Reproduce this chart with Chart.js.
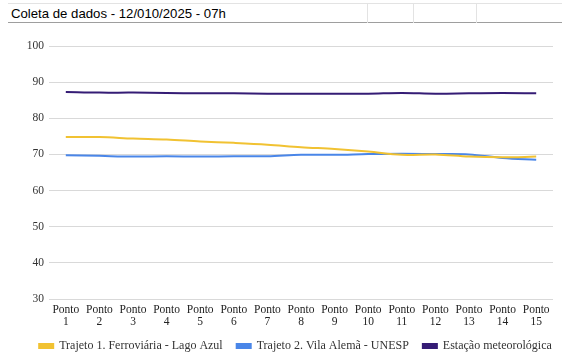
<!DOCTYPE html>
<html>
<head>
<meta charset="utf-8">
<script src="https://cdn.jsdelivr.net/npm/chart.js@4"></script>
<style>
  html, body { margin: 0; padding: 0; background: #fff; }
  body { width: 562px; height: 354px; position: relative; overflow: hidden; }
  .header {
    position: absolute; left: 8px; top: 3px; width: 560px; height: 20px;
    border-top: 1px solid #e3e3e3; border-bottom: 1px solid #9e9e9e;
    font-family: "Liberation Sans", Arial, sans-serif; font-size: 13.2px; color: #000;
    box-sizing: border-box;
  }
  .header span { position: absolute; left: 3px; top: 1px; line-height: 17px; }
  .sep { position: absolute; top: 0; width: 1px; height: 19px; background: #e3e3e3; }
  .wrap { position: absolute; left: 0; top: 30px; width: 562px; height: 335px; }
  .fontwarm { position: absolute; left: -999px; top: 0; font-family: "Liberation Serif"; font-size: 11px; }
</style>
</head>
<body>
<div class="header">
  <span>Coleta de dados - 12/010/2025 - 07h</span>
  <div class="sep" style="left:359px"></div>
  <div class="sep" style="left:405px"></div>
  <div class="sep" style="left:468px"></div>
</div>
<span class="fontwarm">Ponto 100</span>
<div class="wrap"><canvas id="c"></canvas></div>
<script>
// Collection points along the routes
const pontos = ['1','2','3','4','5','6','7','8','9','10','11','12','13','14','15'];
const labels = pontos.map(p => ['Ponto', p]);

// Readings per route
const trajeto1 = [74.8, 74.8, 74.4, 74.1, 73.6, 73.2, 72.7, 72.0, 71.5, 70.8, 69.9, 70.0, 69.4, 69.2, 69.4];
const trajeto2 = [69.8, 69.6, 69.4, 69.5, 69.4, 69.5, 69.5, 69.9, 69.9, 70.1, 70.2, 70.1, 70.0, 69.0, 68.5];
const estacao  = [87.3, 87.1, 87.1, 87.0, 86.9, 86.9, 86.8, 86.8, 86.8, 86.8, 87.0, 86.8, 86.9, 87.0, 86.9];

const seriesNames = ['Trajeto 1. Ferroviária - Lago Azul', 'Trajeto 2. Vila Alemã - UNESP', 'Estação meteorológica'];
const yTicks = [30, 40, 50, 60, 70, 80, 90, 100];

const colors = ['#f1c232', '#4a86e8', '#351c75'];

const mk = (name, data, color) => ({
  label: name, data,
  borderColor: color, backgroundColor: color,
  borderWidth: 2, pointRadius: 0, tension: 0.35
});

// place the legend row just under the axis labels, centred under the plot
const legendNudge = {
  id: 'legendNudge',
  afterLayout(chart) {
    const lg = chart.legend;
    if (lg) {
      lg.top -= 3; lg.bottom -= 3;
      lg.left += 19; lg.right += 19;
    }
  }
};

function draw() {
  Chart.defaults.font.family = "'Liberation Serif', 'Times New Roman', serif";
  Chart.defaults.font.size = 11.5;

  new Chart(document.getElementById('c'), {
    type: 'line',
    data: {
      labels,
      datasets: [
        mk(seriesNames[0], trajeto1, colors[0]),
        mk(seriesNames[1], trajeto2, colors[1]),
        mk(seriesNames[2], estacao, colors[2])
      ]
    },
    plugins: [legendNudge],
    options: {
      responsive: true,
      maintainAspectRatio: false,
      animation: false,
      layout: { padding: { top: 16, right: 9, left: 0, bottom: 0 } },
      plugins: {
        tooltip: { enabled: false },
        legend: {
          position: 'bottom',
          labels: {
            color: '#333',
            font: { size: 12 },
            boxWidth: 14, boxHeight: 4,
            padding: 14
          }
        }
      },
      scales: {
        x: {
          offset: true,
          grid: { display: false, drawTicks: false },
          border: { display: false },
          ticks: {
            font: { lineHeight: 1.05 }, color: '#222',
            maxRotation: 0, autoSkip: false, padding: 5
          },
          afterFit: s => { s.height = 30; }
        },
        y: {
          min: 30, max: 100,
          afterBuildTicks: s => { s.ticks = yTicks.map(v => ({ value: v })); },
          grid: { color: '#d9d9d9', drawTicks: false },
          border: { display: false },
          ticks: { color: '#333', padding: 5 },
          afterFit: s => { s.width = 49; }
        }
      }
    }
  });
}

if (document.fonts && document.fonts.load) {
  document.fonts.load('11.5px "Liberation Serif"').then(draw, draw);
} else {
  draw();
}
</script>
</body>
</html>
